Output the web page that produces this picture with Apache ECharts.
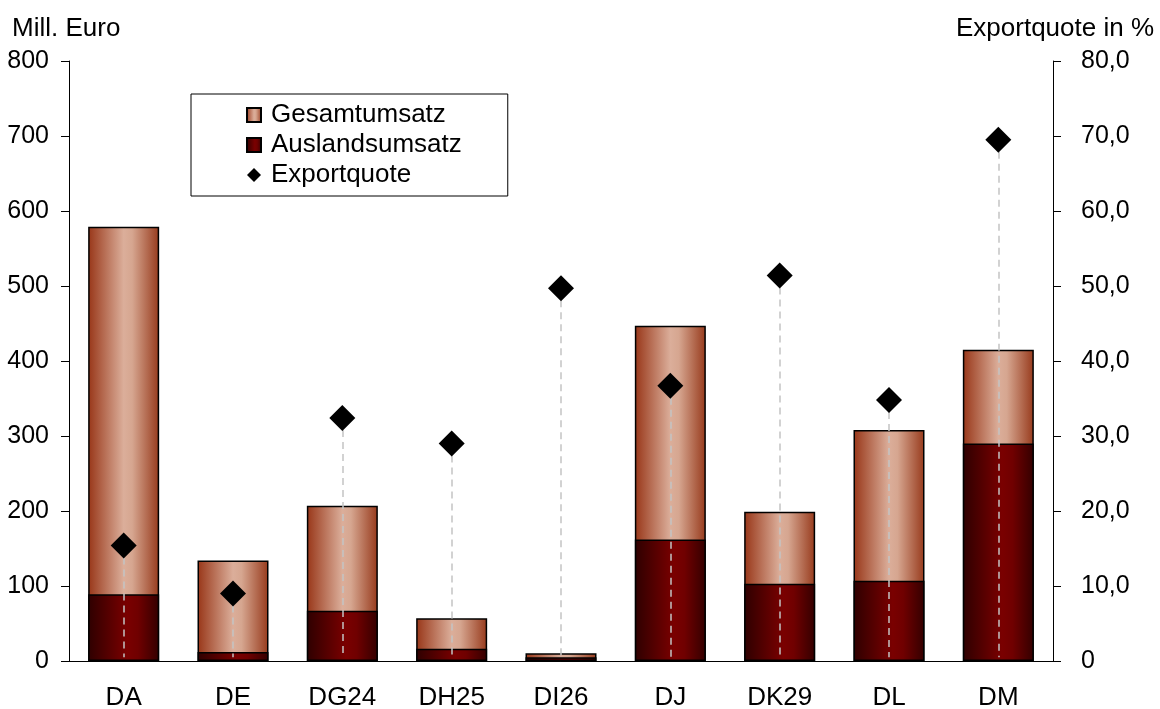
<!DOCTYPE html>
<html>
<head>
<meta charset="utf-8">
<script src="https://cdn.jsdelivr.net/npm/echarts@6/dist/echarts.min.js"></script>
<style>html,body{margin:0;padding:0;background:#fff}#c{width:1160px;height:709px}</style>
</head>
<body>
<div id="c"></div>
<script>
var categories = ['DA','DE','DG24','DH25','DI26','DJ','DK29','DL','DM'];
var gesamtumsatz = [579, 134, 207, 57, 10.5, 447, 199, 308, 415];
var auslandsumsatz = [89, 12, 67, 16.5, 5, 162, 103, 107, 290];
var exportquote = [15.4, 9.0, 32.4, 29.0, 49.7, 36.7, 51.4, 34.8, 69.5];
var leftTicks = {min: 0, max: 800, interval: 100};
var rightTicks = {min: 0, max: 80, interval: 10};

var FONT = 'Liberation Sans';
var NUMSIZE = 25;
var TXTSIZE = 26;
function hgrad(stops){
  return {type:'linear', x:0, y:0, x2:1, y2:0, colorStops: stops};
}
var lightGrad = hgrad([
  {offset:0, color:'#983618'},
  {offset:0.5, color:'#dbae9a'},
  {offset:0.62, color:'#d6a690'},
  {offset:1, color:'#973a1c'}
]);
var darkGrad = hgrad([
  {offset:0, color:'#2e0000'},
  {offset:0.55, color:'#7a0000'},
  {offset:0.7, color:'#700000'},
  {offset:1, color:'#330000'}
]);

var dropLines = categories.map(function(c, i){
  return [{coord:[c, exportquote[i]]}, {coord:[c, 0.5]}];
});

var chart = echarts.init(document.getElementById('c'));
chart.setOption({
  animation: false,
  textStyle: {fontFamily: FONT},
  title: [
    {text:'Mill. Euro', left: 12, top: 16, padding: 0, textStyle:{fontFamily:FONT, fontSize:TXTSIZE, fontWeight:'normal', color:'#000'}},
    {text:'Exportquote in %', right: 6, top: 16, padding: 0, textStyle:{fontFamily:FONT, fontSize:TXTSIZE, fontWeight:'normal', color:'#000'}}
  ],
  legend: {
    orient: 'vertical',
    left: 191, top: 94,
    padding: [8, 46, 8, 55],
    itemGap: 4,
    itemWidth: 14, itemHeight: 14,
    backgroundColor: '#fff',
    borderColor: '#000', borderWidth: 1,
    textStyle: {fontFamily: FONT, fontSize: TXTSIZE, color:'#000', padding:[0,0,0,5]},
    data: [
      {name:'Gesamtumsatz', icon:'rect'},
      {name:'Auslandsumsatz', icon:'rect'},
      {name:'Exportquote', icon:'diamond', itemStyle:{opacity:1}}
    ]
  },
  grid: {left: 69, right: 107, top: 61, bottom: 48, containLabel: false, outerBoundsMode: 'none'},
  xAxis: {
    type: 'category',
    data: categories,
    boundaryGap: true,
    axisLine: {lineStyle:{color:'#000', width:1}},
    axisTick: {length: 8, lineStyle:{color:'#000'}},
    axisLabel: {fontFamily: FONT, fontSize: TXTSIZE, color:'#000', margin: 24}
  },
  yAxis: [
    {
      type:'value', min:leftTicks.min, max:leftTicks.max, interval:leftTicks.interval,
      axisLine:{show:true, lineStyle:{color:'#000'}},
      axisTick:{show:true, length:8, lineStyle:{color:'#000'}},
      splitLine:{show:false},
      axisLabel:{fontFamily:FONT, fontSize:NUMSIZE, color:'#000', margin:20}
    },
    {
      type:'value', position:'right', min:rightTicks.min, max:rightTicks.max, interval:rightTicks.interval,
      axisLine:{show:true, lineStyle:{color:'#000'}},
      axisTick:{show:true, length:8, lineStyle:{color:'#000'}},
      splitLine:{show:false},
      axisLabel:{fontFamily:FONT, fontSize:NUMSIZE, color:'#000', margin:28,
        formatter:function(v){ return v === 0 ? '0' : v.toFixed(1).replace('.', ','); }}
    }
  ],
  series: [
    {
      name:'Gesamtumsatz', type:'bar', data: gesamtumsatz,
      barWidth: 71, barGap:'-100%', z: 2,
      itemStyle:{color: lightGrad, borderColor:'#000', borderWidth:1.5}
    },
    {
      name:'Auslandsumsatz', type:'bar', data: auslandsumsatz,
      barWidth: 71, barGap:'-100%', z: 3,
      itemStyle:{color: darkGrad, borderColor:'#000', borderWidth:1.5}
    },
    {
      name:'Exportquote', type:'scatter', yAxisIndex:1, data: exportquote,
      symbol:'diamond', symbolSize: 26, z: 10,
      itemStyle:{color:'#000', opacity:1},
      markLine:{
        silent:true, symbol:['none','none'], z: 5,
        label:{show:false},
        lineStyle:{color:'#c4c4c4', width:1.5, type:[7,5]},
        data: dropLines
      }
    }
  ]
});
</script>
</body>
</html>
